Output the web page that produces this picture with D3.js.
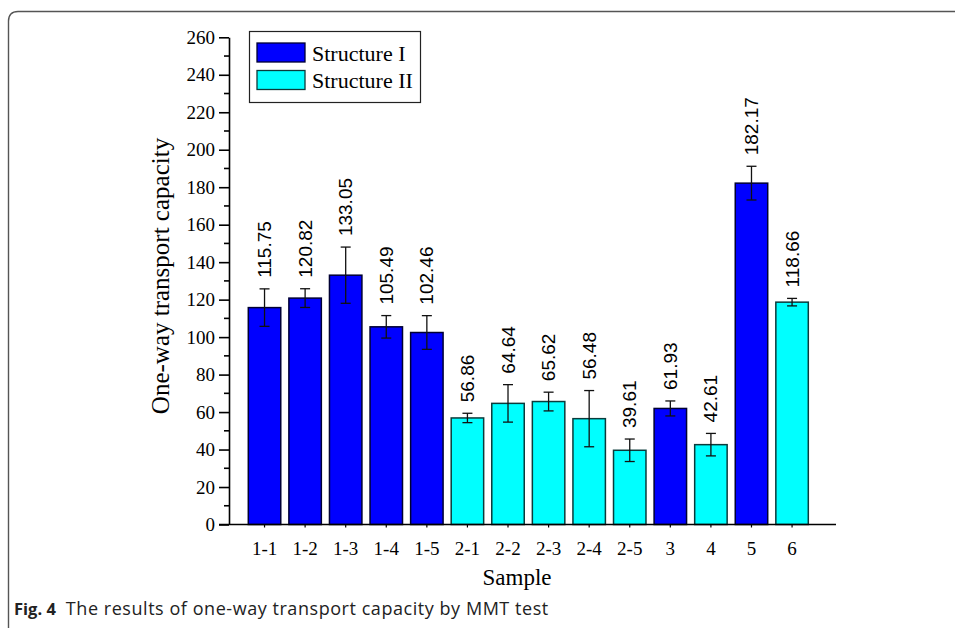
<!DOCTYPE html>
<html><head><meta charset="utf-8">
<script src="https://cdn.jsdelivr.net/npm/d3@7"></script>
<style>body{margin:0;background:#fff}svg{display:block}</style>
</head><body>
<svg id="c" width="955" height="628"></svg>
<script>
const categories = ["1-1","1-2","1-3","1-4","1-5","2-1","2-2","2-3","2-4","2-5","3","4","5","6"];
const values = [115.75,120.82,133.05,105.49,102.46,56.86,64.64,65.62,56.48,39.61,61.93,42.61,182.17,118.66];
const errors = [10,5,15,6,9,2.5,10,5,15,6,4,6,9,2];
const structure = ["I","I","I","I","I","II","II","II","II","II","I","II","I","II"];
const yTicks = [0,20,40,60,80,100,120,140,160,180,200,220,240,260];
const legendLabels = ["Structure I","Structure II"];

const svg = d3.select("#c");
const fill = {I:"#0000ff", II:"#00ffff"};
const edge = {I:"#000033", II:"#0b3b3b"};

// frame
svg.append("path").attr("d","M8.5,628 L8.5,21 Q8.5,11.5 18,11.5 L955,11.5")
  .attr("fill","none").attr("stroke","#555").attr("stroke-width",1.4);

const x0 = 229, x1 = 836, yTop = 37.3, yBase = 524.5;
const y = d3.scaleLinear().domain([0,260]).range([yBase,yTop]);
const x = d3.scaleBand().domain(categories).range([x0+19.3, x0+19.3+40*14]).paddingInner(0.2).paddingOuter(0);

const g = svg.append("g");

// bars
g.selectAll("rect.bar").data(categories).join("rect")
  .attr("x", d=>x(d)).attr("width", x.bandwidth())
  .attr("y", (d,i)=>y(values[i])).attr("height",(d,i)=>yBase-y(values[i]))
  .attr("fill",(d,i)=>fill[structure[i]])
  .attr("stroke",(d,i)=>edge[structure[i]]).attr("stroke-width",1.5);

// error bars
const eg = g.selectAll("g.err").data(categories).join("g");
eg.each(function(d,i){
  const cx = x(d)+x.bandwidth()/2;
  const s = d3.select(this);
  const t = y(values[i]+errors[i]), b = y(values[i]-errors[i]);
  s.append("line").attr("x1",cx).attr("x2",cx).attr("y1",t).attr("y2",b);
  s.append("line").attr("x1",cx-5).attr("x2",cx+5).attr("y1",t).attr("y2",t);
  s.append("line").attr("x1",cx-5).attr("x2",cx+5).attr("y1",b).attr("y2",b);
  s.selectAll("line").attr("stroke","#111").attr("stroke-width",1.3);
  s.append("text").attr("transform",`translate(${cx},${t-11}) rotate(-90)`)
    .attr("text-anchor","start").attr("dominant-baseline","central")
    .attr("font-family","'Liberation Sans', Arial, sans-serif").attr("font-size",19)
    .attr("fill","#000").text(values[i].toFixed(2));
});

// y axis
const yAxis = d3.axisLeft(y).tickValues(yTicks).tickSize(10).tickSizeOuter(0);
const ya = svg.append("g").attr("transform",`translate(${x0},0)`).call(yAxis);
ya.select(".domain").attr("stroke","#000").attr("stroke-width",1.6);
ya.selectAll(".tick line").attr("stroke","#000").attr("stroke-width",1.6);
ya.selectAll(".tick text").attr("font-family","'Liberation Serif', 'Times New Roman', serif").attr("font-size",19).attr("fill","#000").attr("x",-14);
// minor ticks
const minor = d3.range(10,260,20);
svg.append("g").selectAll("line").data(minor).join("line")
  .attr("x1",x0-5).attr("x2",x0).attr("y1",d=>y(d)).attr("y2",d=>y(d))
  .attr("stroke","#000").attr("stroke-width",1.6);

// x axis
svg.append("line").attr("x1",x0-10).attr("x2",x1).attr("y1",yBase).attr("y2",yBase)
  .attr("stroke","#000").attr("stroke-width",1.6);
const xAxis = d3.axisBottom(x).tickSize(3).tickSizeOuter(0);
const xa = svg.append("g").attr("transform",`translate(0,${yBase})`).call(xAxis);
xa.select(".domain").remove();
xa.selectAll(".tick line").attr("stroke","#000").attr("stroke-width",1.2);
xa.selectAll(".tick text").attr("font-family","'Liberation Serif', 'Times New Roman', serif").attr("font-size",19).attr("fill","#000").attr("dy","1.3em");

// axis titles
svg.append("text").attr("transform","translate(160,276) rotate(-90)").attr("text-anchor","middle")
  .attr("font-family","'Liberation Serif', 'Times New Roman', serif").attr("font-size",25).attr("fill","#000")
  .attr("dominant-baseline","central").text("One-way transport capacity");
svg.append("text").attr("x",517).attr("y",585).attr("text-anchor","middle")
  .attr("font-family","'Liberation Serif', 'Times New Roman', serif").attr("font-size",23).attr("fill","#000")
  .text("Sample");

// legend
const lg = svg.append("g");
lg.append("rect").attr("x",249.5).attr("y",31.5).attr("width",171).attr("height",71)
  .attr("fill","#fff").attr("stroke","#222").attr("stroke-width",1.2);
legendLabels.forEach((l,i)=>{
  const k = i===0?"I":"II";
  lg.append("rect").attr("x",257).attr("y",43+i*27.5).attr("width",48).attr("height",19)
    .attr("fill",fill[k]).attr("stroke",edge[k]).attr("stroke-width",1.3);
  lg.append("text").attr("x",312).attr("y",53+i*27.5).attr("dominant-baseline","central")
    .attr("font-family","'Liberation Serif', 'Times New Roman', serif").attr("font-size",22).attr("fill","#000").text(l);
});

// caption
const cap = svg.append("text").attr("x",14).attr("y",615)
  .attr("font-family","'Open Sans', 'Noto Sans', sans-serif").attr("fill","#222");
cap.append("tspan").attr("font-weight","bold").attr("font-size",16.5).text("Fig. 4");
cap.append("tspan").attr("dx",10).attr("font-size",18).attr("letter-spacing",0.55).text("The results of one-way transport capacity by MMT test");
</script>
</body></html>
